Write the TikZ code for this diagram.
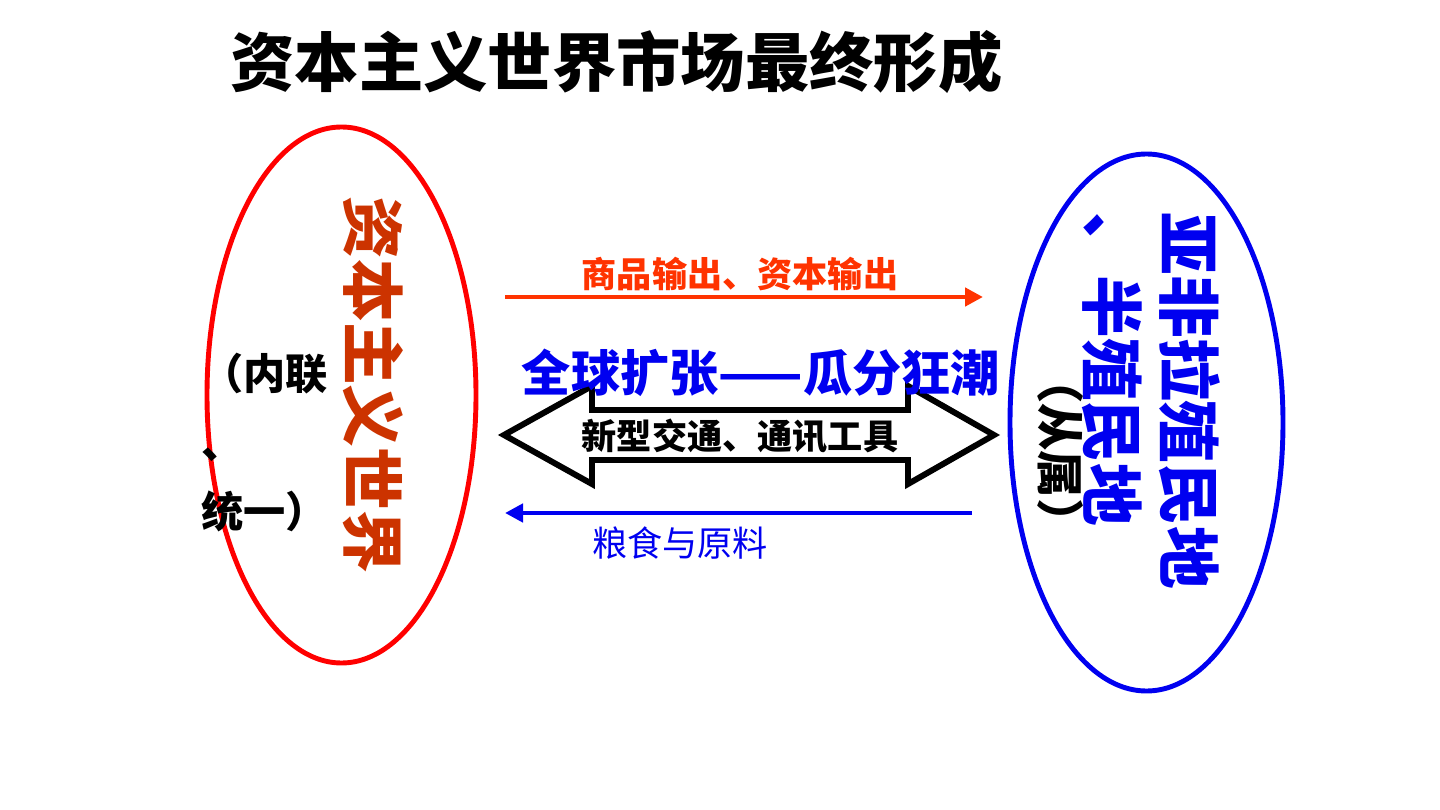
\documentclass[tikz,border=0pt]{standalone}
\usepackage{fontspec}
\setmainfont{Noto Sans CJK SC}
\usetikzlibrary{arrows.meta,shapes.geometric}
\definecolor{rojizo}{RGB}{204,51,0}
\definecolor{naranja}{RGB}{255,51,0}
\definecolor{azul}{RGB}{0,0,240}

\begin{document}
\begin{tikzpicture}[
                bloque/.style={
                        ellipse,
                        draw,
                        line width=2.8pt,
                        inner sep=0pt
                    },
                flecha/.style={line width=2.6pt, -{Triangle[length=0.36cm, width=0.36cm]}},
                titulo/.style={inner sep=0pt, font=\bfseries\fontsize{36.6}{40}\selectfont},
                vertical/.style={inner sep=0pt, rotate=-90, font=\bfseries\fontsize{35.7}{43.7}\selectfont},
                rotulo/.style={inner sep=0pt, font=\bfseries\fontsize{20}{24}\selectfont},
                lateral/.style={inner sep=0pt, font=\bfseries\fontsize{24}{39.4}\selectfont}
            ]
            \useasboundingbox (0,0) rectangle (28.8,-16.2);

            % Titulo
            \node[titulo] (titulo) at (12.33,-1.24) {资本主义世界市场最终形成};

            % Elipses
            \node[bloque, draw=red, minimum width=5.38cm, minimum height=10.72cm] (mundo) at (6.83,-7.90) {};
            \node[bloque, draw=azul, minimum width=5.46cm, minimum height=10.74cm] (colonias) at (22.93,-8.45) {};

            % Textos de las elipses
            \node[vertical, text=rojizo] (capital) at (7.46,-7.70) {资本主义世界};
            \node[lateral, align=left, anchor=west] (union) at (4.02,-8.85) {（内联\\、\\统一）};
            \node[vertical, text=azul, align=left] (asia) at (23.03,-8.02) {亚非拉殖民地\\、半殖民地};
            \node[vertical, font=\bfseries\fontsize{27}{30}\selectfont] (sujecion) at (21.22,-9.02) {（从属）};

            % Doble flecha
            \draw[line width=3.4pt, fill=white] (10.08,-8.70) -- (11.84,-7.72) -- (11.84,-8.20)
                -- (18.16,-8.20) -- (18.16,-7.72) -- (19.88,-8.70) -- (18.16,-9.68)
                -- (18.16,-9.20) -- (11.84,-9.20) -- (11.84,-9.68) -- cycle;
            \node[rotulo] (medios) at (14.80,-8.72) {新型交通、通讯工具};
            \node[rotulo, text=azul, font=\bfseries\fontsize{28}{32}\selectfont] (reparto) at (15.22,-7.46) {全球扩张——瓜分狂潮};

            % Flechas simples
            \coordinate (salida) at (10.10,-5.94);
            \coordinate (llegada) at (19.66,-5.94);
            \draw[flecha, naranja] (salida) -- (llegada);
            \node[rotulo, text=naranja] (exporta) at (14.80,-5.48) {商品输出、资本输出};

            \coordinate (origen) at (19.44,-10.26);
            \coordinate (destino) at (10.10,-10.26);
            \draw[flecha, azul] (origen) -- (destino);
            \node[rotulo, text=azul, font=\fontsize{20}{24}\selectfont] (materias) at (13.60,-10.86) {粮食与原料};

        \end{tikzpicture}
\end{document}
